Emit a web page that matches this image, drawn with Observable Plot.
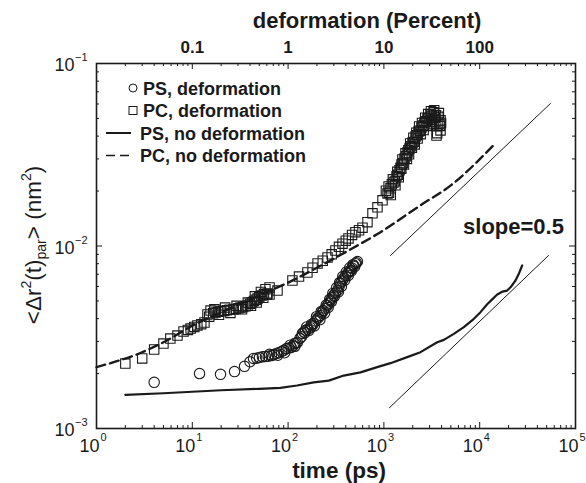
<!DOCTYPE html>
<html><head><meta charset="utf-8">
<script src="https://cdn.jsdelivr.net/npm/d3@7"></script>
<script src="https://cdn.jsdelivr.net/npm/@observablehq/plot@0.6"></script>
<style>body{margin:0;background:#fff} #chart{width:586px;height:483px}</style>
</head><body><div id="chart"></div>
<script>
// ---------- data ----------
const psDefT = [4.0, 11.9, 19.7, 27.6, 35.1, 40, 43.5, 47, 50.2, 54, 58, 62, 64, 67, 71, 75.7, 78, 80, 85.3, 90, 92, 96.2, 102, 105, 108, 113, 117, 118, 121, 125, 133, 138, 141, 146, 150, 152, 156, 160, 165, 171, 175, 178, 184, 188, 193, 198, 203, 210, 215, 218, 222, 226, 234, 240, 245, 250, 258, 262, 267, 272, 277, 283, 288, 293, 298, 305, 312, 320, 328, 335, 340, 345, 352, 360, 365, 372, 379, 390, 398, 405, 417, 425, 432, 440, 448, 458, 465, 475, 482, 495, 505, 515, 530];
const psDefV = [0.00179, 0.0020, 0.00198, 0.00205, 0.00219, 0.00232, 0.00242, 0.00243, 0.00245, 0.00247, 0.00248, 0.00249, 0.00255, 0.00251, 0.00254, 0.00258, 0.00252, 0.0026, 0.00264, 0.00268, 0.0026, 0.00274, 0.00276, 0.00286, 0.00278, 0.00284, 0.00292, 0.00282, 0.00294, 0.00296, 0.00312, 0.00318, 0.00332, 0.00338, 0.00335, 0.00345, 0.0036, 0.0035, 0.00345, 0.00357, 0.00372, 0.00366, 0.00376, 0.00365, 0.00388, 0.0041, 0.00401, 0.00408, 0.00395, 0.00416, 0.00438, 0.0043, 0.00443, 0.00428, 0.00456, 0.00475, 0.00472, 0.0046, 0.00487, 0.0051, 0.00503, 0.00495, 0.0052, 0.0055, 0.00536, 0.0053, 0.00552, 0.0059, 0.0057, 0.0056, 0.00598, 0.0063, 0.00623, 0.006, 0.00643, 0.0068, 0.00664, 0.0065, 0.00685, 0.0072, 0.00707, 0.0069, 0.0072, 0.0076, 0.00734, 0.0073, 0.00758, 0.0079, 0.00782, 0.0077, 0.008, 0.0081, 0.00822];

const pcDefT = [2.0, 3.0, 4.0, 5.0, 5.9, 7.0, 8.1, 9.0, 9.6, 10.5, 11.3, 12.4, 13.4, 14.4, 15, 15.5, 16.5, 17, 17.5, 18.7, 19, 20, 21.5, 22, 23, 24.5, 25, 26.9, 28.5, 29, 30.3, 32, 33, 34, 36, 37.7, 38, 40, 41, 42, 44, 45, 46, 47, 48, 50, 52, 53, 55, 56, 58, 60, 61, 64, 64, 77.5, 111, 130, 159, 180, 203, 230, 258, 285, 312, 340, 370, 400, 427, 465, 505, 550, 598, 674, 760, 857, 967, 1050, 1091, 1120, 1130, 1172, 1180, 1210, 1240, 1259, 1300, 1320, 1355, 1380, 1400, 1430, 1456, 1490, 1520, 1528, 1560, 1580, 1620, 1642, 1680, 1700, 1740, 1763, 1800, 1830, 1850, 1880, 1920, 1960, 1990, 2030, 2060, 2100, 2138, 2180, 2200, 2250, 2297, 2330, 2380, 2420, 2467, 2500, 2560, 2600, 2653, 2700, 2750, 2800, 2851, 2900, 2950, 3000, 3062, 3100, 3150, 3200, 3296, 3300, 3350, 3400, 3450, 3500, 3540, 3600, 3625, 3700, 3750, 3800, 3850, 3900, 3900, 3950];
const pcDefV = [0.00227, 0.00242, 0.00271, 0.00292, 0.00311, 0.00323, 0.0034, 0.00347, 0.00353, 0.0036, 0.00367, 0.00373, 0.00381, 0.00422, 0.0041, 0.00443, 0.00428, 0.0045, 0.00432, 0.00436, 0.0042, 0.0044, 0.00441, 0.0046, 0.00445, 0.00447, 0.0043, 0.00449, 0.00452, 0.0047, 0.00456, 0.0046, 0.0045, 0.00463, 0.00468, 0.00472, 0.0049, 0.00482, 0.0047, 0.0049, 0.005, 0.0053, 0.00508, 0.0049, 0.00515, 0.00525, 0.0056, 0.00535, 0.0052, 0.00545, 0.0058, 0.0054, 0.0055, 0.00593, 0.00542, 0.0057, 0.00647, 0.0068, 0.00716, 0.0076, 0.00802, 0.0083, 0.00865, 0.009, 0.00945, 0.0099, 0.0103, 0.0107, 0.011, 0.0115, 0.0119, 0.0122, 0.0126, 0.0135, 0.0151, 0.0163, 0.0178, 0.0201, 0.0194, 0.0212, 0.0196, 0.0207, 0.019, 0.0218, 0.0232, 0.0223, 0.0226, 0.0215, 0.0241, 0.0255, 0.0246, 0.0238, 0.026, 0.0268, 0.0265, 0.028, 0.0298, 0.0285, 0.028, 0.0302, 0.0322, 0.031, 0.03, 0.0325, 0.0335, 0.0318, 0.0342, 0.0365, 0.0352, 0.0345, 0.0369, 0.0392, 0.0372, 0.036, 0.0398, 0.0418, 0.0405, 0.0388, 0.0424, 0.0452, 0.0428, 0.041, 0.0446, 0.0472, 0.0458, 0.0432, 0.0475, 0.0505, 0.0482, 0.0455, 0.05, 0.0528, 0.0503, 0.0478, 0.0526, 0.0548, 0.0517, 0.0492, 0.054, 0.0465, 0.0555, 0.0505, 0.0478, 0.052, 0.0403, 0.0415, 0.0457, 0.051, 0.0535, 0.0465, 0.0455, 0.043, 0.0488, 0.0472];

const psNoT = [2, 5, 10, 20, 50, 83, 124, 185, 266, 381, 570, 851, 1172, 1750, 2410, 3600, 4225, 5370, 6830, 8690, 10190, 11970, 13500, 15240, 17180, 19360, 20980, 23650, 25610, 27750];
const psNoV = [0.00153, 0.00156, 0.00159, 0.00162, 0.00165, 0.00167, 0.00172, 0.00179, 0.00183, 0.00195, 0.00203, 0.00217, 0.00228, 0.00246, 0.00262, 0.00297, 0.00306, 0.0033, 0.00359, 0.00399, 0.00434, 0.0048, 0.0051, 0.00542, 0.00562, 0.0057, 0.00594, 0.00647, 0.00704, 0.00782];

const pcNoT = [1, 2.9, 5.9, 10, 20, 50, 100, 200, 450, 920, 2400, 5000, 13900];
const pcNoV = [0.00217, 0.0026, 0.00311, 0.00366, 0.00432, 0.00536, 0.0063, 0.0076, 0.0096, 0.0119, 0.0167, 0.0215, 0.0356];

const slopeUpperT = [1172, 54800];
const slopeUpperV = [0.00887, 0.0604];
const slopeLowerT = [1143, 52300];
const slopeLowerV = [0.0013, 0.00887];

const xMajors = [1, 10, 100, 1000, 10000, 100000];
const xExpLabels = ["0", "1", "2", "3", "4", "5"];
const yMajors = [0.001, 0.01, 0.1];
const yExpLabels = ["\u22123", "\u22122", "\u22121"];
const topDeform = [0.1, 1, 10, 100];
const topLabels = ["0.1", "1", "10", "100"];
const legendLabels = ["PS, deformation", "PC, deformation", "PS, no deformation", "PC, no deformation"];

// ---------- build ----------
const W = 586, H = 483, ML = 96, MR = 11, MT = 63, MB = 55;
const PW = W - ML - MR, PH = H - MT - MB;
const FONT = "'Liberation Sans', Arial, Helvetica, sans-serif";
const mult = [2,3,4,5,6,7,8,9];
const xMinors = xMajors.slice(0, -1).flatMap(d => mult.map(k => k * d));
const yMinors = yMajors.slice(0, -1).flatMap(d => mult.map(k => k * d));

const zip = (T, V) => T.map((t, i) => ({t, v: V[i]}));
const psDef = zip(psDefT, psDefV), pcDef = zip(pcDefT, pcDefV);
const psNo = zip(psNoT, psNoV), pcNo = zip(pcNoT, pcNoV);
const slopeUp = zip(slopeUpperT, slopeUpperV), slopeLo = zip(slopeLowerT, slopeLowerV);

const ink = "#1a1a1a";
const plot = Plot.plot({
  width: W, height: H,
  marginLeft: ML, marginRight: MR, marginTop: MT, marginBottom: MB,
  x: {type: "log", domain: [1, 1e5], axis: null},
  y: {type: "log", domain: [1e-3, 1e-1], axis: null},
  style: {fontFamily: FONT, background: "white", color: ink},
  marks: [
    // lines
    Plot.line(slopeUp, {x: "t", y: "v", stroke: ink, strokeWidth: 1}),
    Plot.line(slopeLo, {x: "t", y: "v", stroke: ink, strokeWidth: 1}),
    Plot.line(psNo, {x: "t", y: "v", stroke: ink, strokeWidth: 2.2}),
    Plot.line(pcNo, {x: "t", y: "v", stroke: ink, strokeWidth: 2.4, strokeDasharray: "9,5", curve: "monotone-x"}),
    // markers
    Plot.dot(pcDef, {x: "t", y: "v", symbol: "square", r: 5.3, stroke: ink, strokeWidth: 1.1, fill: "none"}),
    Plot.dot(psDef, {x: "t", y: "v", symbol: "circle", r: 5.2, stroke: ink, strokeWidth: 1.1, fill: "none"}),
    // ticks (inward)
    Plot.tickX(xMajors, {x: d => d, insetTop: PH - 6, stroke: ink}),
    Plot.tickX(xMajors, {x: d => d, insetBottom: PH - 6, stroke: ink}),
    Plot.tickX(xMinors, {x: d => d, insetTop: PH - 3, stroke: ink}),
    Plot.tickX(xMinors, {x: d => d, insetBottom: PH - 3, stroke: ink}),
    Plot.tickY(yMajors, {y: d => d, insetRight: PW - 6, stroke: ink}),
    Plot.tickY(yMajors, {y: d => d, insetLeft: PW - 6, stroke: ink}),
    Plot.tickY(yMinors, {y: d => d, insetRight: PW - 3, stroke: ink}),
    Plot.tickY(yMinors, {y: d => d, insetLeft: PW - 3, stroke: ink}),
    Plot.frame({stroke: ink, strokeWidth: 1.6}),
    // bottom tick labels
    Plot.text(xMajors, {x: d => d, frameAnchor: "bottom", lineAnchor: "middle", dy: 18, dx: 3, text: () => "10", textAnchor: "end", fontSize: 18, fill: ink}),
    Plot.text(xMajors, {x: d => d, frameAnchor: "bottom", lineAnchor: "middle", dy: 9, dx: 4, text: (d, i) => xExpLabels[i], textAnchor: "start", fontSize: 11, fill: ink}),
    // left tick labels
    Plot.text(yMajors, {y: d => d, frameAnchor: "left", lineAnchor: "middle", dx: -22, dy: 2, text: () => "10", textAnchor: "end", fontSize: 18, fill: ink}),
    Plot.text(yMajors, {y: d => d, frameAnchor: "left", lineAnchor: "middle", dx: -9, dy: -6, text: (d, i) => yExpLabels[i], textAnchor: "end", fontSize: 11, fill: ink}),
    // top tick labels (deformation percent = time / 100)
    Plot.text(topDeform, {x: d => d * 100, frameAnchor: "top", lineAnchor: "middle", dy: -16, text: (d, i) => topLabels[i], fontWeight: "bold", fontSize: 17, fill: ink}),
    // axis titles
    Plot.text(["time (ps)"], {frameAnchor: "bottom", lineAnchor: "middle", textAnchor: "middle", dy: 42, dx: 3, text: d => d, fontWeight: "bold", fontSize: 22.5, fill: ink}),
    Plot.text(["deformation (Percent)"], {frameAnchor: "top", lineAnchor: "middle", textAnchor: "middle", dy: -43, dx: 31, text: d => d, fontWeight: "bold", fontSize: 22, fill: ink}),
    // annotation
    Plot.text(["slope=0.5"], {frameAnchor: "top-right", lineAnchor: "middle", textAnchor: "middle", dx: -62, dy: 163, text: d => d, fontWeight: "bold", fontSize: 22, fill: ink})
  ]
});
document.getElementById("chart").appendChild(plot);

// ---------- y-axis title with super/subscripts ----------
const svg = d3.select(plot);
const yl = svg.append("text")
  .attr("transform", "translate(41,245) rotate(-90)")
  .attr("text-anchor", "middle")
  .attr("font-family", FONT).attr("font-size", 22.5).attr("fill", ink);
yl.append("tspan").text("<\u0394r");
yl.append("tspan").attr("font-size", 14).attr("dy", -10).text("2");
yl.append("tspan").attr("dy", 10).text("(t)");
yl.append("tspan").attr("font-size", 14).attr("dy", 5).text("par");
yl.append("tspan").attr("dy", -5).text("> (nm");
yl.append("tspan").attr("font-size", 14).attr("dy", -10).text("2");
yl.append("tspan").attr("dy", 10).text(")");

// ---------- legend ----------
const lg = svg.append("g").attr("font-family", FONT).attr("font-weight", "bold").attr("font-size", 18).attr("fill", ink).attr("text-anchor", "start");
const rows = [88, 110.5, 133, 155.5];
legendLabels.forEach((lab, i) => {
  const y = rows[i];
  if (i === 0) lg.append("circle").attr("cx", 133).attr("cy", y).attr("r", 4).attr("fill", "none").attr("stroke", ink).attr("stroke-width", 1);
  if (i === 1) lg.append("rect").attr("x", 129).attr("y", y - 4).attr("width", 8).attr("height", 8).attr("fill", "none").attr("stroke", ink).attr("stroke-width", 1);
  if (i === 2) lg.append("line").attr("x1", 106).attr("x2", 131).attr("y1", y).attr("y2", y).attr("stroke", ink).attr("stroke-width", 2);
  if (i === 3) lg.append("line").attr("x1", 106).attr("x2", 131).attr("y1", y).attr("y2", y).attr("stroke", ink).attr("stroke-width", 1.6).attr("stroke-dasharray", "9,5");
  lg.append("text").attr("x", i < 2 ? 143 : 140).attr("y", y + 6.5).attr("text-anchor", "start").text(lab);
});
</script></body></html>
